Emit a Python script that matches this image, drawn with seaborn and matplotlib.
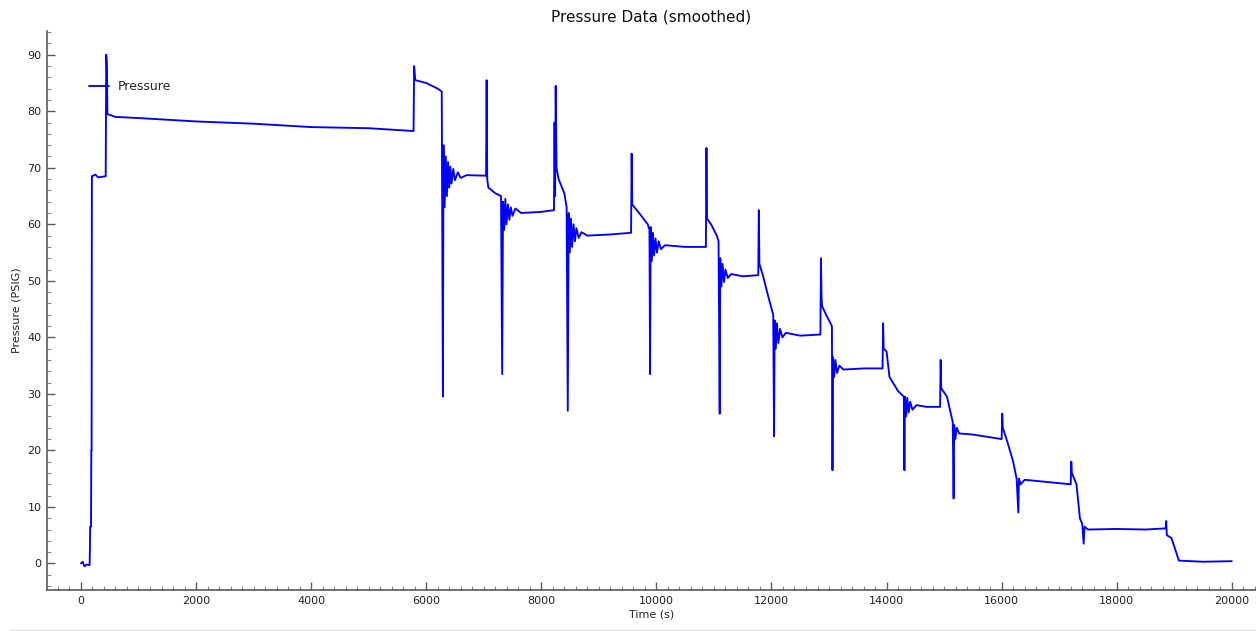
import matplotlib
matplotlib.use("Agg")
import matplotlib.pyplot as plt
from matplotlib.ticker import MultipleLocator
from matplotlib.lines import Line2D
import seaborn as sns
import pandas as pd

# ---- data (time in s, pressure in PSIG) ----
time_s = [
    0, 30, 60, 100, 150, 155, 160, 175, 180, 185, 190, 250, 300, 430, 440, 450, 460,
    600, 1000, 2000, 3000, 4000, 5000, 5780, 5790, 5810, 6000, 6200, 6270,
    6290, 6300, 6320, 6340, 6360, 6380, 6400, 6420, 6440, 6470, 6500, 6550, 6600, 6700,
    7000, 7040, 7050, 7060, 7080, 7200, 7300, 7320, 7335, 7355, 7375, 7395, 7420, 7445,
    7470, 7500, 7550, 7650, 8000, 8220, 8230, 8240, 8250, 8265, 8300, 8400, 8440, 8460,
    8475, 8495, 8515, 8535, 8560, 8585, 8610, 8650, 8700, 8800, 9200, 9560, 9570, 9580,
    9700, 9850, 9880, 9890, 9900, 9920, 9940, 9960, 9985, 10010, 10040, 10080, 10150,
    10500, 10860, 10870, 10880, 10950, 11050, 11080, 11100, 11110, 11130, 11150, 11175,
    11200, 11240, 11300, 11500, 11770, 11780, 11790, 11850, 11950, 12030, 12045, 12055,
    12075, 12095, 12120, 12150, 12190, 12250, 12500, 12850, 12860, 12870, 12880, 12950,
    13050, 13060, 13070, 13090, 13110, 13140, 13180, 13250, 13600, 13930, 13940, 13950,
    14000, 14050, 14200, 14300, 14310, 14320, 14340, 14360, 14385, 14410, 14450, 14520,
    14700, 14930, 14940, 14950, 15050, 15150, 15165, 15175, 15195, 15220, 15260, 15500,
    16000, 16010, 16020, 16100, 16200, 16260, 16290, 16300, 16330, 16400, 16700, 17200,
    17210, 17220, 17300, 17360, 17400, 17425, 17440, 17500, 18000, 18500, 18850, 18860,
    18870, 18950, 19000, 19080, 19500, 20000,
]
pressure_psig = [
    0.0, 0.3, -0.5, -0.2, -0.3, 2.0, 6.5, 6.5, 20.0, 20.0, 68.5, 68.8, 68.3, 68.5, 90.0, 88.0, 79.5,
    79.0, 78.8, 78.2, 77.8, 77.2, 77.0, 76.5, 88.0, 85.5, 85.0, 84.0, 83.5,
    29.5, 74.0, 63.0, 72.0, 65.0, 71.0, 66.5, 70.2, 67.2, 69.8, 67.8, 69.2, 68.2, 68.7,
    68.6, 68.6, 85.5, 68.0, 66.5, 65.5, 65.0, 33.5, 64.0, 59.0, 64.5, 60.0, 63.5, 60.8,
    63.0, 61.5, 62.8, 62.0, 62.2, 62.5, 78.0, 65.0, 84.5, 70.0, 68.0, 65.5, 63.0, 27.0,
    62.0, 55.0, 61.0, 56.0, 60.0, 57.0, 59.3, 57.6, 58.6, 58.0, 58.2, 58.5, 72.5, 63.5,
    62.0, 60.0, 59.0, 33.5, 59.5, 53.5, 58.5, 54.5, 57.5, 55.0, 57.0, 55.6, 56.3,
    56.0, 56.0, 73.5, 61.0, 60.0, 58.0, 57.0, 26.5, 54.0, 49.0, 53.0, 49.8,
    52.0, 50.5, 51.2, 50.8, 51.0, 62.5, 53.0, 51.0, 47.0, 44.0, 22.5, 43.0,
    38.0, 42.5, 39.0, 41.5, 40.0, 40.8, 40.3, 40.5, 54.0, 47.0, 45.5, 44.0,
    42.0, 16.5, 36.5, 33.0, 36.0, 33.7, 35.0, 34.3, 34.5, 34.5, 42.5, 38.0,
    37.5, 33.0, 30.5, 29.5, 16.5, 29.5, 26.0, 29.3, 26.7, 28.6, 27.2, 28.0,
    27.7, 27.7, 36.0, 31.0, 29.5, 25.0, 11.5, 24.5, 22.0, 24.0, 23.0, 22.8,
    22.0, 26.5, 24.0, 21.5, 18.0, 15.0, 9.0, 15.0, 14.0, 14.8, 14.5, 14.0,
    18.0, 16.0, 14.0, 8.0, 7.0, 3.5, 6.5, 6.0, 6.1, 6.0, 6.2, 7.5,
    5.0, 4.5, 3.0, 0.5, 0.3, 0.4,
]
series_name = "Pressure"
x_ticks = [0, 2000, 4000, 6000, 8000, 10000, 12000, 14000, 16000, 18000, 20000]
y_ticks = [0, 10, 20, 30, 40, 50, 60, 70, 80, 90]

df = pd.DataFrame({"Time (s)": time_s, "Pressure (PSIG)": pressure_psig})

sns.set_theme(style="white")
plt.rcParams["font.family"] = ["DejaVu Sans"]

fig = plt.figure(figsize=(12.56, 6.31), dpi=100)
ax = fig.add_axes([47 / 1256, 41 / 631, 1 - 47 / 1256, 559 / 631])

sns.lineplot(data=df, x="Time (s)", y="Pressure (PSIG)", ax=ax, color="#0000FF",
             linewidth=1.35, estimator=None, sort=False, label=series_name)

ax.set_xlim(-590, 20420)
ax.set_ylim(-4.7, 94.2)
ax.set_xticks(x_ticks)
ax.set_yticks(y_ticks)
ax.xaxis.set_minor_locator(MultipleLocator(200))
ax.yaxis.set_minor_locator(MultipleLocator(2))

spine_col = "#5a5a5a"
for s in ["top", "right"]:
    ax.spines[s].set_visible(False)
for s in ["left", "bottom"]:
    ax.spines[s].set_color(spine_col)
    ax.spines[s].set_linewidth(1.2)

ax.tick_params(which="major", direction="in", length=6, width=1.0, color=spine_col,
               labelsize=8, labelcolor="#222222", pad=4, bottom=True, left=True)
ax.tick_params(which="minor", direction="in", length=3, width=0.8, color="#888888",
               bottom=True, left=True)

ax.set_title("Pressure Data (smoothed)", fontsize=11, color="#111111", pad=7)
ax.set_xlabel("Time (s)", fontsize=8, color="#222222", labelpad=3)
ax.set_ylabel("Pressure (PSIG)", fontsize=8, color="#222222", labelpad=4)

leg = ax.legend(loc="upper left", bbox_to_anchor=(0.0347, 0.912), frameon=False,
                fontsize=9, handlelength=1.6, handletextpad=0.7, borderpad=0,
                borderaxespad=0)

# faint frame line along the bottom of the widget
fig.add_artist(Line2D([9 / 1256, 1.0], [1.5 / 631, 1.5 / 631], color="#e6e6e6",
                      linewidth=1.0, transform=fig.transFigure))

fig.savefig("out.png", dpi=100, facecolor="white")
